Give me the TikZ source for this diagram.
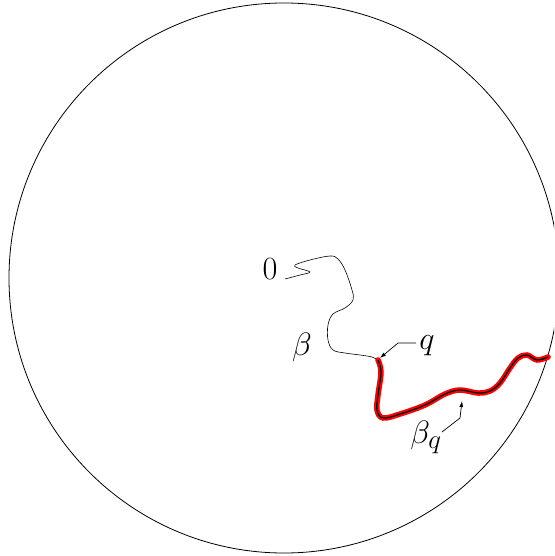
\documentclass[tikz,border=0pt]{standalone}
\usetikzlibrary{arrows.meta}
\begin{document}
\begin{tikzpicture}[x=1pt,y=-1pt,
  lbl/.style={font=\Huge, scale=1.3, inner sep=0pt},
  ptr/.style={line width=0.7pt,-{Latex[length=6pt,width=4pt]}}]
\useasboundingbox (0,0) rectangle (554,556);
\clip (0,0) rectangle (554,556);
\draw[line width=0.8pt] (284,278) circle (275pt);
% beta path
\draw[line width=0.6pt] plot[smooth, tension=0.6] coordinates {
 (285,279) (300,275) (310,272) (298,268) (295,265) (310,260) (330,256)
 (338,259) (345,270) (352,290) (353,300) (345,308) (333,314) (328,325)
 (328,340) (333,350) (345,353) (360,355) (372,357) (378,360)};
% beta_q red path
\def\redpath{plot[smooth, tension=0.6] coordinates {
 (378,360) (381,372) (378,395) (377,410) (383,418) (400,414) (425,405)
 (445,394) (460,390) (478,393) (490,391) (500,383) (510,368) (518,358)
 (527,355) (537,360) (548,357)}}
\draw[red, line width=5.5pt, line cap=round] \redpath;
\draw[black, line width=1.3pt] \redpath;
\coordinate (q) at (380,358);
\coordinate (bq) at (462,401);
% labels
\node[lbl] (zero) at (270,269) {$0$};
\node[lbl] (beta) at (302,347) {$\beta$};
\node[lbl, anchor=west] (qlab) at (419,346) {$q$};
\node[lbl] (bqlab) at (426,437) {$\beta_q$};
\draw[ptr] (416,343) -- (398,343) -- (q);
\draw[ptr] (442,432) -- (460,418) -- (bq);
\end{tikzpicture}
\end{document}
